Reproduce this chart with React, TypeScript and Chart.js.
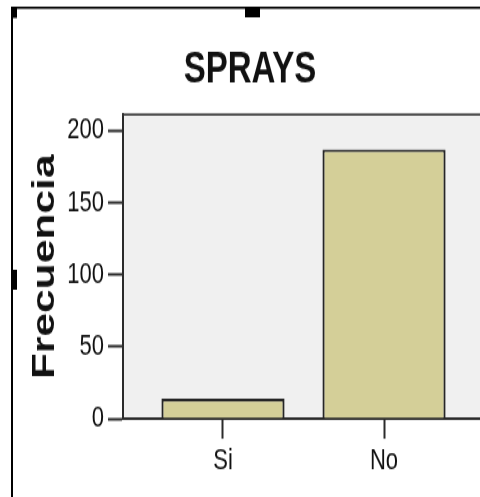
import { useEffect, useRef } from 'react';
import { Chart, registerables } from 'chart.js';

Chart.register(...registerables);

const chartTitle = 'SPRAYS';
const yAxisTitle = 'Frecuencia';
const categories = ['Si', 'No'];
const categoryPositions = [1, 2];
const frequencies = [14, 187];
const yTicks = [0, 50, 100, 150, 200];
const yMax = 211;

const FONT = '"Liberation Sans", Arial, sans-serif';
const INTERNAL_W = 480;
const INTERNAL_H = 374;
const CSS_H = 497;

export default function App() {
  const ref = useRef<HTMLCanvasElement>(null);

  useEffect(() => {
    const canvas = ref.current;
    if (!canvas) return;

    const framePlugin = {
      id: 'frame',
      beforeDraw(chart: any) {
        const { ctx, chartArea: a } = chart;
        ctx.save();
        ctx.fillStyle = '#ffffff';
        ctx.fillRect(0, 0, chart.width, chart.height);
        ctx.fillStyle = '#f0f0f0';
        ctx.fillRect(a.left, a.top, a.right - a.left, a.bottom - a.top);
        ctx.restore();
      },
      afterDraw(chart: any) {
        const { ctx, chartArea: a } = chart;
        ctx.save();
        ctx.fillStyle = '#333333';
        ctx.fillRect(a.left - 1, a.top - 1, a.right - a.left + 1, 1.6);
        ctx.fillStyle = '#000000';
        ctx.fillRect(11, 5, chart.width, 1.6);
        ctx.fillRect(11, 5, 2, chart.height);
        ctx.fillRect(11, 5, 6, 8.5);
        ctx.fillRect(245, 5, 15, 8);
        ctx.fillRect(11, 203, 6, 15);
        ctx.restore();
      },
    };

    const chart = new Chart(canvas, {
      type: 'bar',
      data: {
        datasets: [
          {
            data: categoryPositions.map((x, i) => ({ x, y: frequencies[i] })),
            backgroundColor: '#d4cf98',
            borderColor: '#262626',
            borderWidth: 2.2,
            barPercentage: 0.765,
            categoryPercentage: 1,
          },
        ],
      },
      options: {
        responsive: false,
        animation: false,
        devicePixelRatio: 1,
        layout: { padding: { left: 12, right: -8, top: 8, bottom: 9.5 } },
        plugins: {
          legend: { display: false },
          tooltip: { enabled: false },
          title: {
            display: true,
            text: chartTitle,
            color: '#111111',
            font: { family: FONT, size: 33, weight: 'bold' },
            padding: { top: 25.5, bottom: 13.3 },
          },
        },
        scales: {
          x: {
            type: 'linear',
            min: 0.379,
            max: 2.596,
            offset: false,
            afterBuildTicks: (s: any) => {
              s.ticks = categoryPositions.map((v) => ({ value: v }));
            },
            grid: {
              offset: false,
              drawOnChartArea: false,
              drawTicks: true,
              tickLength: 15,
              tickColor: '#2b2b2b',
              tickWidth: 2,
            },
            border: { display: true, color: '#2b2b2b', width: 2 },
            ticks: {
              callback: (v: any) => {
                const i = categoryPositions.indexOf(Number(v));
                return i >= 0 ? categories[i] : '';
              },
              font: { family: FONT, size: 22 },
              color: '#111111',
              padding: 4,
              maxRotation: 0,
              autoSkip: false,
            },
          },
          y: {
            min: 0,
            max: yMax,
            afterBuildTicks: (s: any) => {
              s.ticks = yTicks.map((v) => ({ value: v }));
            },
            afterFit: (s: any) => {
              s.width = 111;
            },
            grid: {
              drawOnChartArea: false,
              drawTicks: true,
              tickLength: 15,
              tickColor: '#2b2b2b',
              tickWidth: 2,
            },
            border: { display: true, color: '#2b2b2b', width: 2 },
            ticks: {
              font: { family: FONT, size: 22 },
              color: '#111111',
              padding: 4,
            },
            title: {
              display: true,
              text: yAxisTitle,
              color: '#111111',
              font: { family: FONT, size: 32, weight: 'bold' },
              padding: { top: 13.8, bottom: 2.6 },
            },
          },
        },
      },
      plugins: [framePlugin],
    } as any);

    return () => chart.destroy();
  }, []);

  return (
    <div
      style={{
        position: 'fixed',
        left: 0,
        top: 0,
        width: INTERNAL_W,
        height: CSS_H,
        background: '#ffffff',
      }}
    >
      <canvas
        ref={ref}
        width={INTERNAL_W}
        height={INTERNAL_H}
        style={{ width: `${INTERNAL_W}px`, height: `${CSS_H}px`, display: 'block' }}
      />
    </div>
  );
}
